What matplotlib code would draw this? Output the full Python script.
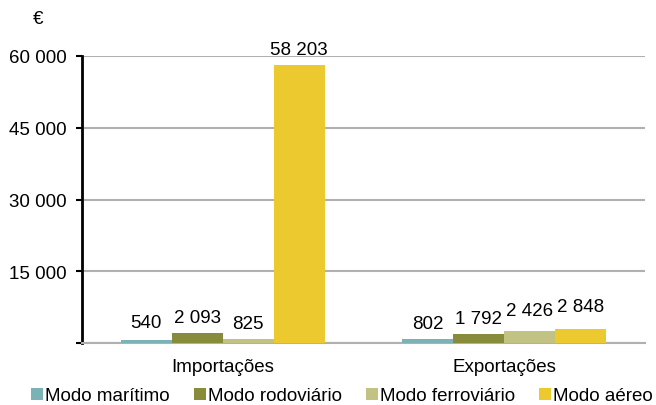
import matplotlib
matplotlib.use("Agg")
import matplotlib.pyplot as plt
import numpy as np
from matplotlib.patches import Patch

plt.rcParams['font.family'] = ['Liberation Sans', 'DejaVu Sans']

categories = ["Importações", "Exportações"]
series_names = ["Modo marítimo", "Modo rodoviário", "Modo ferroviário", "Modo aéreo"]
maritimo = [540, 802]
rodoviario = [2093, 1792]
ferroviario = [825, 2426]
aereo = [58203, 2848]
series_values = [maritimo, rodoviario, ferroviario, aereo]
colors = ["#7AB2B5", "#878B3A", "#C2C283", "#ECC92F"]
yticks = [0, 15000, 30000, 45000, 60000]
ytick_labels = ["", "15 000", "30 000", "45 000", "60 000"]

FS = 13.5
# extra label lift (points) per series/category, as in the original layout
extra_pad = {(0, 0): 2, (2, 1): 4, (3, 1): 5}

def fmt(v):
    return f"{v:,}".replace(",", " ")

fig = plt.figure(figsize=(6.56, 4.06), dpi=100)
ax = fig.add_axes([82/656, 1-344/406, (645-82)/656, (344-57)/406])

x = np.arange(len(categories))
w = 0.181
for i, (name, vals, c) in enumerate(zip(series_names, series_values, colors)):
    pos = x + (i - 1.5) * w
    bars = ax.bar(pos, vals, width=w, color=c, label=name, zorder=3)
    texts = ax.bar_label(bars, labels=[fmt(v) for v in vals], padding=5, fontsize=FS, color="#000000")
    for j, t in enumerate(texts):
        dx, dy = t.xyann
        t.xyann = (dx, dy + extra_pad.get((i, j), 0))

ax.set_xlim(-0.5, 1.5)
ax.set_ylim(0, 60000)
ax.set_yticks(yticks)
ax.set_yticklabels(ytick_labels, fontsize=FS)
ax.set_xticks(x)
ax.set_xticklabels(categories, fontsize=FS)
ax.tick_params(axis='x', length=0, pad=11)
ax.tick_params(axis='y', length=4, width=1.5, pad=7, direction='out')
ax.yaxis.grid(True, color="#B0B0B0", linewidth=1.5, zorder=0)
ax.set_axisbelow(True)
for s in ["top", "right"]:
    ax.spines[s].set_visible(False)
ax.spines["left"].set_color("black")
ax.spines["left"].set_linewidth(2)
ax.spines["bottom"].set_color("#B0B0B0")
ax.spines["bottom"].set_linewidth(1.5)

fig.text(38/656, 1-20/406, "€", fontsize=FS, ha="center", va="center")

handles = [Patch(facecolor=c, edgecolor='none') for c in colors]
fig.legend(handles, series_names, loc="center", bbox_to_anchor=(342/656, 1-397/406),
           ncol=4, frameon=False, fontsize=FS, handlelength=0.64, handleheight=0.64,
           handletextpad=0.1, columnspacing=1.3, borderpad=0, borderaxespad=0)

fig.savefig("out.png", dpi=100)
